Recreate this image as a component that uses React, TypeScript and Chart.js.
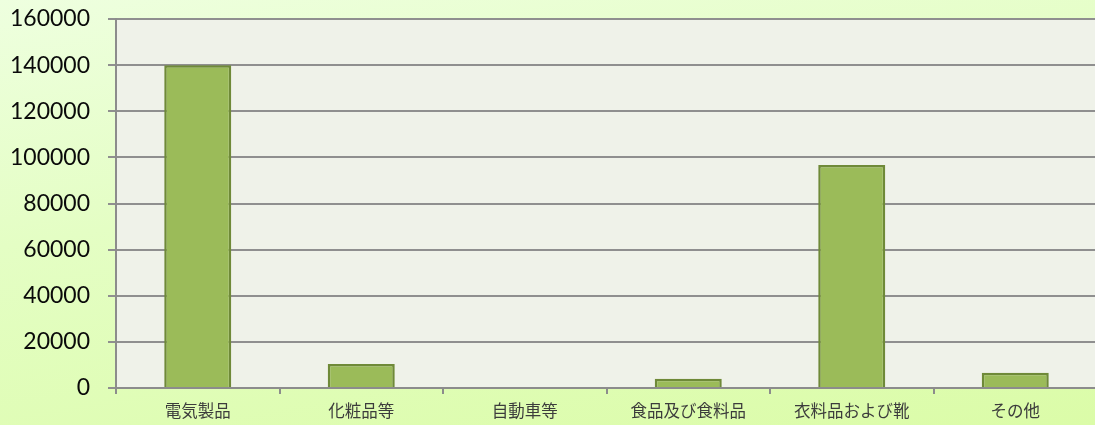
import React, { useEffect, useRef } from "react";
import { Chart, registerables } from "chart.js";

Chart.register(...registerables);

const categories: string[] = ["電気製品", "化粧品等", "自動車等", "食品及び食料品", "衣料品および靴", "その他"];
const values: number[] = [140000, 10400, 0, 4000, 96700, 6600];
const yMin = 0;
const yMax = 160000;
const yStep = 20000;

const plotBg = {
  id: "plotBg",
  beforeDraw(chart: any) {
    const { ctx, chartArea } = chart;
    if (!chartArea) return;
    ctx.save();
    ctx.fillStyle = "#eff2e9";
    ctx.fillRect(chartArea.left, chartArea.top, chartArea.right - chartArea.left, chartArea.bottom - chartArea.top);
    ctx.restore();
  },
};

export default function App() {
  const ref = useRef<HTMLCanvasElement | null>(null);
  useEffect(() => {
    if (!ref.current) return;
    const chart = new Chart(ref.current, {
      type: "bar",
      data: {
        labels: categories,
        datasets: [
          {
            data: values,
            backgroundColor: "#9bbb59",
            borderColor: "#6f8a38",
            borderWidth: 2.5,
            barPercentage: 0.41,
            categoryPercentage: 1,
          },
        ],
      },
      options: {
        animation: false,
        responsive: false,
        devicePixelRatio: 1,
        layout: { padding: { top: 19, left: 0, right: 0, bottom: 0 } },
        plugins: { legend: { display: false }, tooltip: { enabled: false } },
        scales: {
          x: {
            grid: {
              display: true,
              drawOnChartArea: false,
              drawTicks: true,
              tickLength: 6,
              color: "#8c8c8c",
              lineWidth: 2,
              offset: true,
            },
            border: { display: true, color: "#8c8c8c", width: 2 },
            ticks: {
              color: "#3c3c3c",
              padding: 7,
              maxRotation: 0,
              autoSkip: false,
              font: { family: "'Noto Sans CJK JP'", size: 16.5 },
            },
            afterFit: (s: any) => {
              s.height = 37;
              s.paddingLeft = 0;
              s.paddingRight = 0;
            },
          },
          y: {
            min: yMin,
            max: yMax,
            grid: {
              color: "#8f8f8f",
              lineWidth: 2,
              drawTicks: true,
              tickLength: 8,
            },
            border: { display: true, color: "#8c8c8c", width: 2 },
            ticks: {
              stepSize: yStep,
              color: "#0a0a0a",
              padding: 18,
              font: { family: "Lato", size: 23 },
              callback: (v: any) => String(v),
            },
            afterFit: (s: any) => {
              s.width = 116;
              s.paddingTop = 0;
              s.paddingBottom = 0;
            },
          },
        },
      },
      plugins: [plotBg],
    });
    return () => chart.destroy();
  }, []);
  return (
    <div
      style={{
        position: "fixed",
        left: 0,
        top: 0,
        width: 1095,
        height: 425,
        overflow: "hidden",
        background: "linear-gradient(170deg, #eeffdf 0%, #e4fec4 40%, #dbfca8 100%)",
      }}
    >
      <canvas ref={ref} width={1097} height={425} style={{ display: "block" }} />
    </div>
  );
}
